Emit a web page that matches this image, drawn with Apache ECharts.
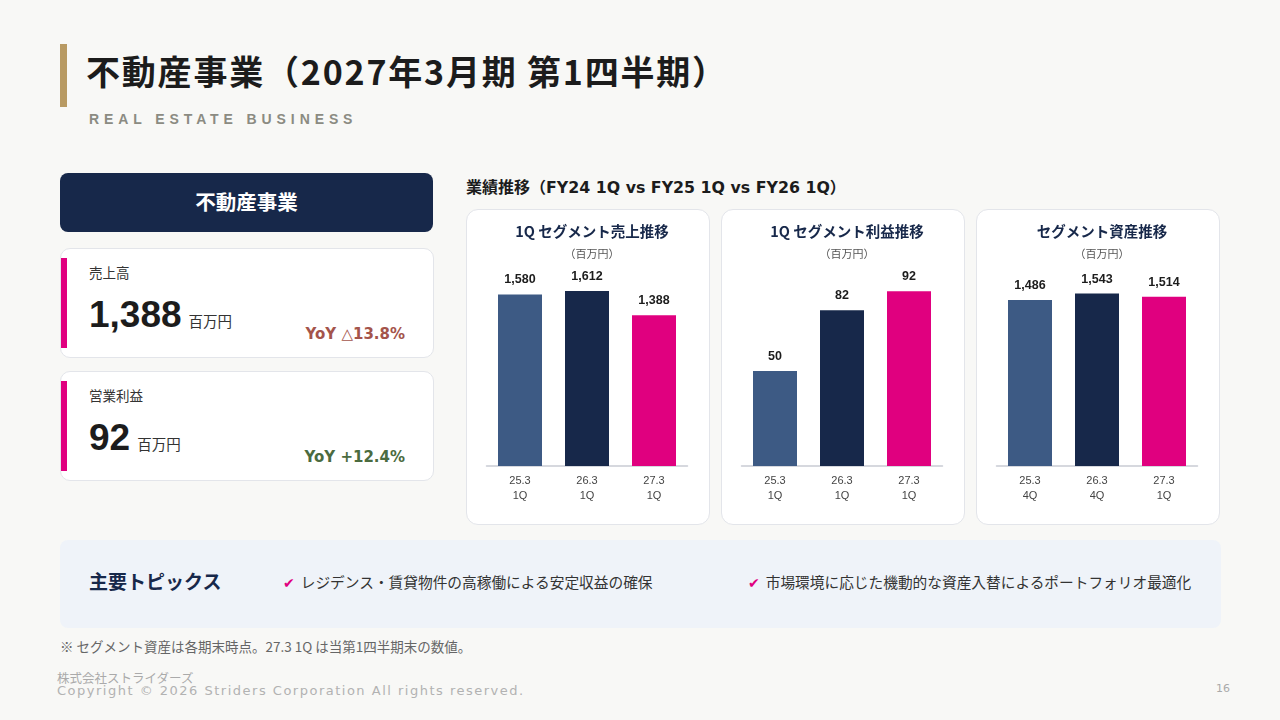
<!DOCTYPE html>
<html lang="ja">
<head>
<meta charset="utf-8">
<title>不動産事業</title>
<script src="https://cdn.jsdelivr.net/npm/echarts@6/dist/echarts.min.js"></script>
<style>
  html, body { margin: 0; padding: 0; }
  body {
    width: 1280px; height: 720px; position: relative; overflow: hidden;
    background: #f8f8f6;
    font-family: "Noto Sans CJK JP", "Noto Sans", sans-serif;
    color: #222;
  }
  .abs { position: absolute; }
  .title-bar { left: 60px; top: 44px; width: 7px; height: 63px; background: #b89a63; }
  .title { left: 86px; top: 48px; font-size: 34px; font-weight: 700; color: #1c1c1c; white-space: nowrap; line-height: 46px; letter-spacing: 1.8px; }
  .title-en { left: 89px; top: 111px; font-family: "Liberation Sans", Arial, sans-serif; font-size: 14px; font-weight: 700; letter-spacing: 4.9px; color: #8b8b82; }
  .seg-head { left: 60px; top: 173px; width: 373px; height: 59px; background: #17284a; border-radius: 8px;
    color: #fff; font-size: 20.5px; font-weight: 700; text-align: center; line-height: 56px; }
  .card { left: 60px; width: 372px; height: 108px; background: #fff; border: 1px solid #e3e5ea; border-radius: 10px; overflow: hidden; }
  .card .accent { position: absolute; left: 0; top: 9px; width: 6px; height: 90px; background: #e0007f; }
  .card .lbl { position: absolute; left: 28px; top: 13px; font-size: 13.5px; color: #333; }
  .card .val { position: absolute; left: 28px; top: 42px; font-family: "Liberation Sans", Arial, sans-serif; font-size: 37px; font-weight: 700; color: #1c1c1c; line-height: 48px; }
  .card .unit { font-family: "Noto Sans CJK JP", sans-serif; font-size: 14.5px; font-weight: 400; color: #333; margin-left: 7px; }
  .card .yoy { position: absolute; right: 28px; top: 76px; font-family: "DejaVu Sans", Verdana, sans-serif; font-size: 15px; font-weight: 700; }
  .sub { left: 466px; top: 174px; font-size: 16px; font-weight: 700; color: #1c1c1c; white-space: nowrap; }
  .sub .lat { font-family: "DejaVu Sans", Verdana, sans-serif; font-size: 15.8px; }
  .panel { top: 209px; width: 242px; height: 314px; background: #fff; border: 1px solid #e3e5ea; border-radius: 12px; }
  #chart { left: 466px; top: 209px; width: 756px; height: 316px; }
  .topics { left: 60px; top: 540px; width: 1161px; height: 88px; background: #eff3f9; border-radius: 8px; }
  .topics .h { position: absolute; left: 29px; top: 27px; font-size: 19px; font-weight: 700; color: #17284a; }
  .topics .it { position: absolute; top: 31px; font-size: 14.7px; color: #333; white-space: nowrap; }
  .topics .ck { color: #e0007f; font-weight: 700; margin-right: 6px; font-family: "DejaVu Sans", sans-serif; font-size: 14px; }
  .note { left: 60px; top: 636px; font-size: 13.5px; color: #666; white-space: nowrap; }
  .corp { left: 57px; top: 668px; font-size: 12.5px; color: #aaa; }
  .copy { left: 57px; top: 683px; font-family: "DejaVu Sans", sans-serif; font-size: 13px; letter-spacing: 1.5px; color: #b2b2b2; white-space: nowrap; }
  .page { left: 1216px; top: 682px; font-family: "DejaVu Sans", sans-serif; font-size: 11px; color: #aaa; }
</style>
</head>
<body>
<div class="abs title-bar"></div>
<div class="abs title">不動産事業（2027年3月期 第1四半期）</div>
<div class="abs title-en">REAL ESTATE BUSINESS</div>

<div class="abs seg-head">不動産事業</div>
<div class="abs card" style="top:248px">
  <div class="accent"></div>
  <div class="lbl">売上高</div>
  <div class="val">1,388<span class="unit">百万円</span></div>
  <div class="yoy" style="color:#a4544b">YoY △13.8%</div>
</div>
<div class="abs card" style="top:371px">
  <div class="accent"></div>
  <div class="lbl">営業利益</div>
  <div class="val">92<span class="unit">百万円</span></div>
  <div class="yoy" style="color:#4b6b40">YoY +12.4%</div>
</div>

<div class="abs sub">業績推移（<span class="lat">FY24 1Q vs FY25 1Q vs FY26 1Q</span>）</div>
<div class="abs panel" style="left:466px"></div>
<div class="abs panel" style="left:721px"></div>
<div class="abs panel" style="left:976px"></div>
<div class="abs" id="chart"></div>

<div class="abs topics">
  <div class="h">主要トピックス</div>
  <div class="it" style="left:223px"><span class="ck">✔</span>レジデンス・賃貸物件の高稼働による安定収益の確保</div>
  <div class="it" style="left:688px"><span class="ck">✔</span>市場環境に応じた機動的な資産入替によるポートフォリオ最適化</div>
</div>
<div class="abs note">※ セグメント資産は各期末時点。27.3 1Q は当第1四半期末の数値。</div>
<div class="abs corp">株式会社ストライダーズ</div>
<div class="abs copy">Copyright © 2026 Striders Corporation All rights reserved.</div>
<div class="abs page">16</div>

<script>
// chart data
const panelTitles = ['1Q セグメント売上推移', '1Q セグメント利益推移', 'セグメント資産推移']
const unitLabel = '（百万円）'
const salesCats = ['25.3\n1Q', '26.3\n1Q', '27.3\n1Q']
const profitCats = ['25.3\n1Q', '26.3\n1Q', '27.3\n1Q']
const assetCats = ['25.3\n4Q', '26.3\n4Q', '27.3\n1Q']
const salesValues = [1580, 1612, 1388]
const profitValues = [50, 82, 92]
const assetValues = [1486, 1543, 1514]
const axisMax = [1750, 100, 1700]
const barColors = ['#3d5a84', '#17284a', '#e0007f']

const chart = echarts.init(document.getElementById('chart'), null, { renderer: 'canvas' })

const panelLeft = [0, 255, 510]
const cats = [salesCats, profitCats, assetCats]
const values = [salesValues, profitValues, assetValues]

const option = {
  animation: false,
  title: [],
  grid: [],
  xAxis: [],
  yAxis: [],
  series: []
}

panelLeft.forEach((left, i) => {
  option.title.push({
    text: panelTitles[i],
    subtext: unitLabel,
    left: left + 121,
    top: 10,
    textAlign: 'center',
    itemGap: 10,
    textStyle: { fontFamily: 'Noto Sans CJK JP', fontSize: 14.5, fontWeight: 'bold', color: '#17284a' },
    subtextStyle: { fontFamily: 'Noto Sans CJK JP', fontSize: 11, color: '#555' }
  })
  option.grid.push({ left: left + 20.5, width: 201, top: 67, height: 190 })
  option.xAxis.push({
    type: 'category',
    gridIndex: i,
    data: cats[i],
    axisTick: { show: false },
    axisLine: { lineStyle: { color: '#c9ccd4', width: 1.5 } },
    axisLabel: { fontFamily: 'Liberation Sans', fontSize: 11, color: '#444', lineHeight: 15, margin: 7 }
  })
  option.yAxis.push({
    type: 'value',
    gridIndex: i,
    min: 0,
    max: axisMax[i],
    show: false,
    splitLine: { show: false }
  })
  option.series.push({
    type: 'bar',
    xAxisIndex: i,
    yAxisIndex: i,
    barWidth: 44,
    data: values[i].map((v, k) => ({ value: v, itemStyle: { color: barColors[k] } })),
    label: {
      show: true,
      position: 'top',
      distance: 8,
      fontFamily: 'Liberation Sans',
      fontSize: 12.5,
      fontWeight: 'bold',
      color: '#1c1c1c',
      formatter: p => p.value.toLocaleString('en-US')
    }
  })
})

chart.setOption(option)
</script>
</body>
</html>
